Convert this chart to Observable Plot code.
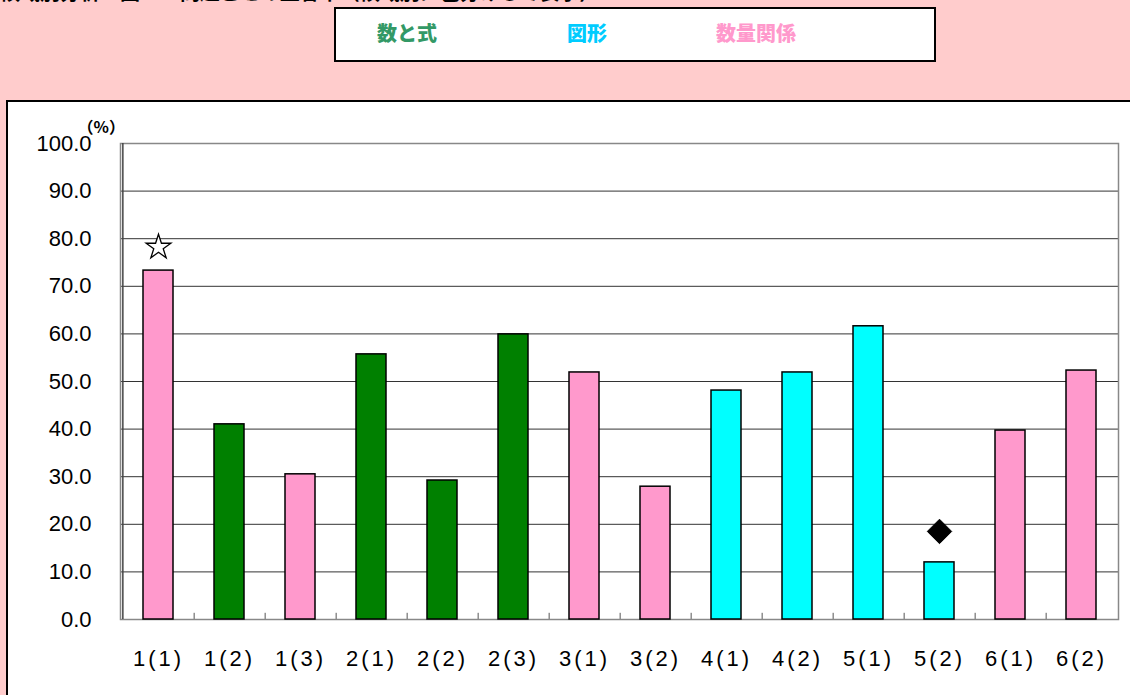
<!DOCTYPE html>
<html><head><meta charset="utf-8">
<script src="https://cdn.jsdelivr.net/npm/d3@7"></script>
<script src="https://cdn.jsdelivr.net/npm/@observablehq/plot@0.6"></script>
<style>
html,body{margin:0;padding:0}
body{background:#FFCCCC;width:1130px;height:695px;overflow:hidden;position:relative;font-family:"Noto Sans CJK JP","Noto Sans",sans-serif}
#title{position:absolute;left:0;top:-18px;font-size:20px;line-height:20px;font-weight:bold;white-space:nowrap;color:#000}
#legend{position:absolute;left:334px;top:7px;width:598px;height:51px;border:2px solid #000;background:#fff}
.lg{position:absolute;top:23px;font-size:20px;line-height:20px;font-weight:900;white-space:nowrap}
#panel{position:absolute;left:6px;top:100px;width:1140px;height:610px;background:#fff;border-top:2px solid #000;border-left:2px solid #000}
#chart{position:absolute;left:0;top:0}
#chart g[aria-label="x-axis tick label"] text{letter-spacing:3px}
</style></head>
<body>
<div id="title">領域別分析　図１　問題ごとの正答率（領域別に色分けして表示）</div>
<div id="legend"></div>
<div class="lg" style="left:377px;color:#339966">数と式</div>
<div class="lg" style="left:567px;color:#00CCFF">図形</div>
<div class="lg" style="left:716px;color:#FF99CC">数量関係</div>
<div id="panel"><div id="chart"></div></div>
<script>
const categories = ["1(1)","1(2)","1(3)","2(1)","2(2)","2(3)","3(1)","3(2)","4(1)","4(2)","5(1)","5(2)","6(1)","6(2)"];
const values = [73.3, 41.0, 30.5, 55.7, 29.2, 59.9, 51.9, 27.9, 48.1, 51.9, 61.6, 12.0, 39.7, 52.3];
const domains = ["数量関係","数と式","数量関係","数と式","数と式","数と式","数量関係","数量関係","図形","図形","図形","図形","数量関係","数量関係"];
const domainNames = ["数と式","図形","数量関係"];
const domainColors = ["#008000","#00FFFF","#FF99CC"];
const yTicks = [0,10,20,30,40,50,60,70,80,90,100];
const gridValues = [10,20,30,40,50,60,70,80,90];
const starCategories = ["1(1)"];
const starValues = [78.2];
const diamondCategories = ["5(2)"];
const diamondValues = [18.5];

const bars = categories.map((c,i)=>({cat:c, value:values[i], domain:domains[i]}));
const stars = starCategories.map((c,i)=>({cat:c, value:starValues[i]}));
const diamonds = diamondCategories.map((c,i)=>({cat:c, value:diamondValues[i]}));

const W = 1122, H = 593, ML = 112, MR = 12;
const step = (W - ML - MR) / categories.length;

const chart = Plot.plot({
  width: W, height: H,
  marginLeft: ML, marginRight: MR, marginTop: 41, marginBottom: 76,
  style: {fontFamily: "'Noto Sans CJK JP', sans-serif", background: "transparent", color: "#000"},
  x: {domain: categories, paddingInner: 0.58, paddingOuter: 0.29, label: null},
  y: {domain: [0, 100], label: null},
  color: {domain: domainNames, range: domainColors},
  marks: [
    Plot.ruleY(gridValues, {stroke: "#333", strokeWidth: 1}),
    Plot.ruleX(categories.slice(0, -1), {x: d => d, dx: step / 2, y1: 0, y2: 1.3, stroke: "#555", strokeWidth: 1}),
    Plot.frame({stroke: "#888", strokeWidth: 1.5}),
    Plot.ruleX([0], {x: () => categories[0], dx: -step / 2, y1: 0, y2: 100, stroke: "#444", strokeWidth: 1.5}),
    Plot.barY(bars, {x: "cat", y: "value", fill: "domain", stroke: "#000", strokeWidth: 1.5}),
    Plot.dot(stars, {x: "cat", y: "value", symbol: "star", fill: "white", stroke: "#000", strokeWidth: 1.3, r: 7.8}),
    Plot.dot(diamonds, {x: "cat", y: "value", symbol: "diamond2", fill: "#000", stroke: "#000", strokeWidth: 1, r: 11}),
    Plot.axisY({ticks: yTicks, tickFormat: d => d.toFixed(1), tickSize: 0, tickPadding: 29, fontSize: 22, fontFamily: "'Liberation Sans', Arial, sans-serif", label: null}),
    Plot.axisX({tickSize: 0, tickPadding: 31, fontSize: 22, fontFamily: "'Liberation Sans', Arial, sans-serif", label: null}),
    Plot.text(["（%）"], {frameAnchor: "top-left", dx: -43, dy: -22, textAnchor: "start", fontSize: 16, fontWeight: "bold"})
  ]
});
document.getElementById("chart").appendChild(chart);
</script>
</body></html>
